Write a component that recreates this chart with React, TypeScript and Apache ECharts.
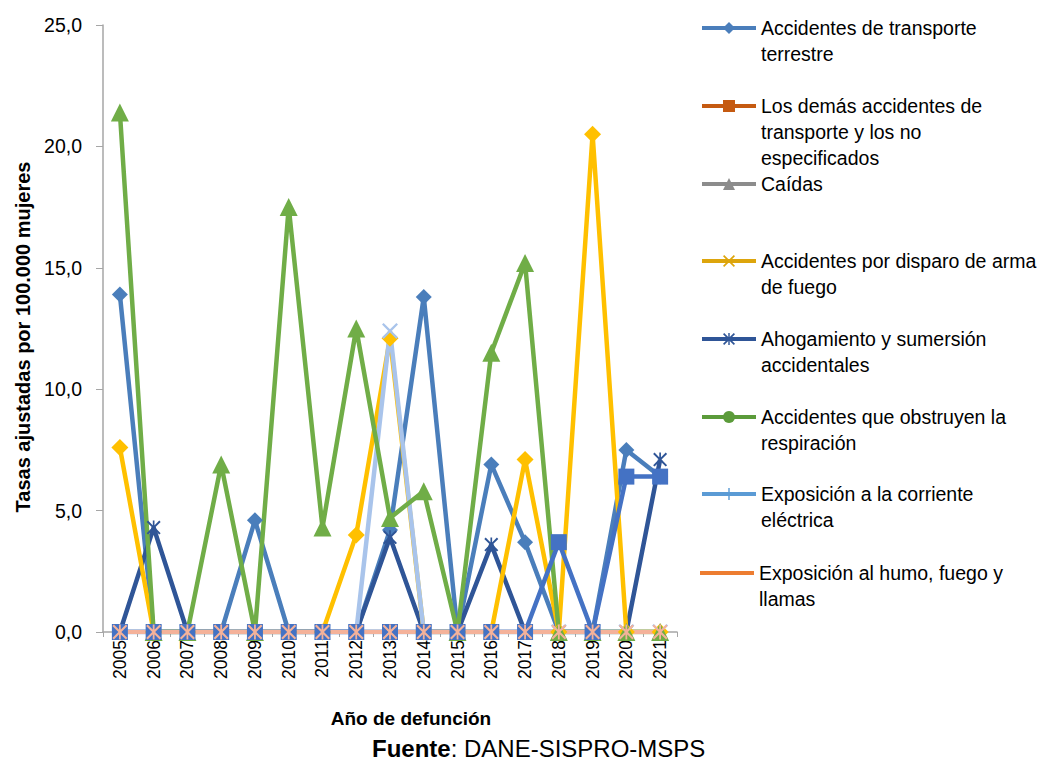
import React, { useEffect, useRef } from 'react';
import * as echarts from 'echarts';

const years = ['2005', '2006', '2007', '2008', '2009', '2010', '2011', '2012', '2013', '2014', '2015', '2016', '2017', '2018', '2019', '2020', '2021'];

const transporteTerrestre = [13.9, 0, 0, 0, 4.6, 0, 0, 0, 4.2, 13.8, 0, 6.9, 3.7, 0, 0, 7.5, 6.4];
const losDemasTransporte = [0, 0, 0, 0, 0, 0, 0, 0, 0, 0, 0, 0, 0, 3.7, 0, 6.4, 6.4];
const caidas = [0, 0, 0, 0, 0, 0, 0, 0, 0, 0, 0, 0, 0, 0, 0, 0, 0];
const disparoArma = [7.6, 0, 0, 0, 0, 0, 0, 4.0, 12.1, 0, 0, 0, 7.1, 0, 20.5, 0, 0];
const ahogamiento = [0, 4.3, 0, 0, 0, 0, 0, 0, 3.9, 0, 0, 3.6, 0, 0, 0, 0, 7.1];
const obstruyenRespiracion = [21.4, 0, 0, 6.9, 0, 17.5, 4.3, 12.5, 4.7, 5.8, 0, 11.5, 15.2, 0, 0, 0, 0];
const corrienteElectrica = [0, 0, 0, 0, 0, 0, 0, 0, 12.4, 0, 0, 0, 0, 0, 0, 0, 0];
const humoFuego = [0, 0, 0, 0, 0, 0, 0, 0, 0, 0, 0, 0, 0, 0, 0, 0, 0];

const seriesNames = [
  'Accidentes de transporte terrestre',
  'Los demás accidentes de transporte y los no especificados',
  'Caídas',
  'Accidentes por disparo de arma de fuego',
  'Ahogamiento y sumersión accidentales',
  'Accidentes que obstruyen la respiración',
  'Exposición a la corriente eléctrica',
  'Exposición al humo, fuego y llamas',
];

const legendLabels = [
  'Accidentes de transporte\nterrestre',
  'Los demás accidentes de\ntransporte y los no\nespecificados',
  'Caídas',
  'Accidentes por disparo de arma\nde fuego',
  'Ahogamiento y sumersión\naccidentales',
  'Accidentes que obstruyen la\nrespiración',
  'Exposición a la corriente\neléctrica',
  'Exposición al humo, fuego y\nllamas',
];

const FONT = 'Liberation Sans, Arial, sans-serif';
const X_PATH = 'path://M0,1 L1,0 L5,4 L9,0 L10,1 L6,5 L10,9 L9,10 L5,6 L1,10 L0,9 L4,5 Z';
const STAR_PATH = 'path://M0,1 L1,0 L5,4 L9,0 L10,1 L6,5 L10,9 L9,10 L5,6 L1,10 L0,9 L4,5 Z M4.4,0 L5.6,0 L5.6,10 L4.4,10 Z';
const PLUS_PATH = 'path://M4.4,0 L5.6,0 L5.6,10 L4.4,10 Z M0,4.6 L10,4.6 L10,5.4 L0,5.4 Z';
const LINE_ICON = 'path://M0,0 L54,0 L54,4 L0,4 Z';

// legend look (as in the reference legend)
const legendColors = ['#4A7EBB', '#C55A11', '#8C8C8C', '#DDA50C', '#2F5597', '#5B9B3A', '#5B9BD5', '#ED7D31'];
const legendSymbols = ['diamond', 'rect', 'triangle', X_PATH, STAR_PATH, 'circle', PLUS_PATH, 'none'];
const legendCenters = [28, 106, 184, 261, 339, 417, 494, 573];

// plot look
const plotData = [transporteTerrestre, losDemasTransporte, caidas, disparoArma, ahogamiento, obstruyenRespiracion, corrienteElectrica, humoFuego];
const plotColors = ['#4A7EBB', '#4472C4', '#A5A5A5', '#FFC000', '#2F5597', '#70AD47', '#A9C4EB', '#F4B29A'];
const plotSymbols = ['diamond', 'rect', 'triangle', 'diamond', STAR_PATH, 'triangle', X_PATH, STAR_PATH];
const plotSizes = [16, 16, 16, 17, 14, 18, 16, 15];
const plotWidths = [4.5, 4.5, 4.5, 4.5, 4.5, 4.5, 4.5, 4];
const drawOrder = [2, 0, 4, 3, 6, 5, 1, 7];

const LH = 26;

export default function App() {
  const ref = useRef<HTMLDivElement>(null);

  useEffect(() => {
    if (!ref.current) return;
    const chart = echarts.init(ref.current, null, { renderer: 'svg' });

    const dummySeries = seriesNames.map((name, i) => ({
      name,
      type: 'line',
      data: [],
      symbol: legendSymbols[i] === 'none' ? 'circle' : legendSymbols[i],
      symbolSize: 12,
      itemStyle: { color: legendColors[i], borderWidth: 0 },
      lineStyle: { color: legendColors[i], width: 4 },
      silent: true,
    }));

    const plotSeries = drawOrder.map((i) => ({
      name: seriesNames[i],
      type: 'line',
      data: plotData[i],
      symbol: plotSymbols[i],
      symbolSize: plotSizes[i],
      showAllSymbol: true,
      itemStyle: { color: plotColors[i], borderWidth: 0 },
      lineStyle: { color: plotColors[i], width: plotWidths[i] },
      emphasis: { disabled: true },
    }));

    const legends = seriesNames.map((name, i) => {
      const n = legendLabels[i].split('\n').length;
      const item: any = { name };
      if (legendSymbols[i] === 'none') item.icon = LINE_ICON;
      // leading blank lines keep the first text line level with the icon
      const label = '\n'.repeat(n - 1) + legendLabels[i];
      return {
        orient: 'vertical',
        left: 700,
        top: legendCenters[i] - ((2 * n - 1) * LH) / 2,
        padding: 0,
        itemWidth: 54,
        itemHeight: 15,
        selectedMode: false,
        data: [item],
        formatter: () => label,
        lineStyle: { width: 4 },
        textStyle: {
          fontFamily: FONT,
          fontSize: 19.5,
          color: '#000',
          lineHeight: LH,
        },
      };
    });

    chart.setOption({
      animation: false,
      backgroundColor: '#fff',
      grid: { left: 103, right: 362, top: 25, bottom: 129, containLabel: false },
      legend: legends,
      xAxis: {
        type: 'category',
        data: years,
        boundaryGap: true,
        axisLine: { lineStyle: { color: '#A6A6A6', width: 1.5 } },
        axisTick: { show: true, length: 5, lineStyle: { color: '#A6A6A6' } },
        axisLabel: { interval: 0, rotate: 90, margin: 8, fontFamily: FONT, fontSize: 17.5, color: '#000' },
        splitLine: { show: false },
      },
      yAxis: {
        type: 'value',
        min: 0,
        max: 25,
        interval: 5,
        axisLine: { show: true, lineStyle: { color: '#A6A6A6', width: 1.5 } },
        axisTick: { show: true, length: 7, lineStyle: { color: '#A6A6A6' } },
        axisLabel: {
          margin: 21,
          fontFamily: FONT,
          fontSize: 19.5,
          color: '#000',
          formatter: (v: number) => v.toFixed(1).replace('.', ','),
        },
        splitLine: { show: false },
      },
      graphic: [
        {
          type: 'text',
          x: 23,
          y: 337,
          rotation: Math.PI / 2,
          style: {
            text: 'Tasas ajustadas por 100.000 mujeres',
            fontFamily: FONT,
            fontSize: 20,
            fontWeight: 'bold',
            fill: '#000',
            align: 'center',
            verticalAlign: 'middle',
          },
        },
        {
          type: 'text',
          x: 411,
          y: 718,
          style: {
            text: 'Año de defunción',
            fontFamily: FONT,
            fontSize: 19,
            fontWeight: 'bold',
            fill: '#000',
            align: 'center',
            verticalAlign: 'middle',
          },
        },
        {
          type: 'text',
          x: 372,
          y: 748,
          style: {
            text: '{b|Fuente}{n|: DANE-SISPRO-MSPS}',
            align: 'left',
            verticalAlign: 'middle',
            rich: {
              b: { fontFamily: FONT, fontSize: 24, fontWeight: 'bold', fill: '#000' },
              n: { fontFamily: FONT, fontSize: 24, fill: '#000' },
            },
          },
        },
      ],
      series: [...dummySeries, ...plotSeries],
    });

    return () => chart.dispose();
  }, []);

  return <div ref={ref} style={{ width: 1039, height: 761, position: 'absolute', left: 0, top: 0 }} />;
}
